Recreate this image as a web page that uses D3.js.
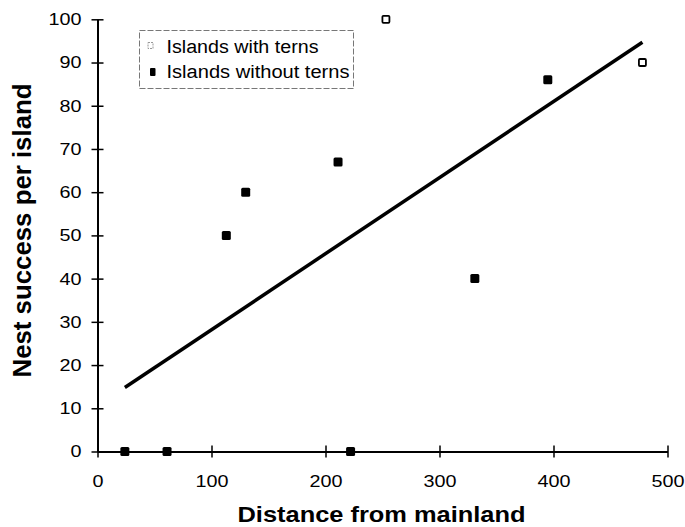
<!DOCTYPE html>
<html>
<head>
<meta charset="utf-8">
<script src="https://cdn.jsdelivr.net/npm/d3@7"></script>
<style>
  body { margin: 0; background: #fff; }
  svg text { font-family: "Liberation Sans", Arial, sans-serif; fill: #000; }
</style>
</head>
<body>
<div id="chart"></div>
<script>
// islands with terns (open squares)
var ternDist = [253, 478];
var ternNest = [100, 90];
// islands without terns (filled squares)
var noTernDist = [24, 61, 222, 113, 130, 211, 331, 395];
var noTernNest = [0, 0, 0, 50, 60, 67, 40, 86];
// trend line end points
var trendDist = [24, 478];
var trendNest = [14.8, 94.7];

var xTicks = [0, 100, 200, 300, 400, 500];
var yTicks = [0, 10, 20, 30, 40, 50, 60, 70, 80, 90, 100];
var legendLabels = ['Islands with terns', 'Islands without terns'];

var width = 685, height = 527;
var margin = {top: 19.3, right: 17.5, bottom: 75.5, left: 97.5};

var svg = d3.select('#chart').append('svg')
    .attr('width', width)
    .attr('height', height);

var x = d3.scaleLinear().domain([0, 500]).range([margin.left, width - margin.right]);
var y = d3.scaleLinear().domain([0, 100]).range([height - margin.bottom, margin.top]);

// y axis
var yAxis = svg.append('g')
    .attr('transform', 'translate(' + x(0) + ',0)')
    .call(d3.axisLeft(y).tickValues(yTicks).tickSize(6).tickSizeOuter(0).tickPadding(10));
yAxis.select('.domain').attr('stroke', '#000').attr('stroke-width', 2);
yAxis.selectAll('.tick line').attr('x1', 6).attr('stroke', '#000').attr('stroke-width', 1.5);
yAxis.selectAll('.tick text')
    .style('font-size', '17px')
    .attr('textLength', function (d) { return String(d).length * 11; })
    .attr('lengthAdjust', 'spacingAndGlyphs');

// x axis
var xAxis = svg.append('g')
    .attr('transform', 'translate(0,' + y(0) + ')')
    .call(d3.axisBottom(x).tickValues(xTicks).tickSize(6).tickSizeOuter(0).tickPadding(17));
xAxis.select('.domain').attr('stroke', '#000').attr('stroke-width', 2);
xAxis.selectAll('.tick line').attr('y1', -6).attr('stroke', '#000').attr('stroke-width', 1.5);
xAxis.selectAll('.tick text')
    .style('font-size', '17px')
    .attr('textLength', function (d) { return String(d).length * 11; })
    .attr('lengthAdjust', 'spacingAndGlyphs');

// axis titles
svg.append('text')
    .attr('x', (x(0) + x(500)) / 2 - 1)
    .attr('y', 521.5)
    .attr('text-anchor', 'middle')
    .style('font-size', '22px')
    .style('font-weight', 'bold')
    .attr('textLength', 288)
    .attr('lengthAdjust', 'spacingAndGlyphs')
    .text('Distance from mainland');

svg.append('text')
    .attr('transform', 'translate(31,230.5) rotate(-90)')
    .attr('text-anchor', 'middle')
    .style('font-size', '25px')
    .style('font-weight', 'bold')
    .attr('textLength', 294)
    .attr('lengthAdjust', 'spacingAndGlyphs')
    .text('Nest success per island');

// trend line
var line = d3.line()
    .x(function (d) { return x(d[0]); })
    .y(function (d) { return y(d[1]); });
svg.append('path')
    .datum(d3.zip(trendDist, trendNest))
    .attr('d', line)
    .attr('fill', 'none')
    .attr('stroke', '#000')
    .attr('stroke-width', 3.5);

// points
svg.append('g').selectAll('rect')
    .data(d3.zip(noTernDist, noTernNest))
    .enter().append('rect')
    .attr('x', function (d) { return x(d[0]) - 4.5; })
    .attr('y', function (d) { return y(d[1]) - 4.5; })
    .attr('width', 9).attr('height', 9)
    .attr('rx', 1.5)
    .attr('fill', '#000');

svg.append('g').selectAll('rect')
    .data(d3.zip(ternDist, ternNest))
    .enter().append('rect')
    .attr('x', function (d) { return x(d[0]) - 3.5; })
    .attr('y', function (d) { return y(d[1]) - 3.5; })
    .attr('width', 7).attr('height', 7)
    .attr('rx', 1)
    .attr('fill', '#fff')
    .attr('stroke', '#000')
    .attr('stroke-width', 1.8);

// legend
var legend = svg.append('g');
legend.append('rect')
    .attr('x', 139.5).attr('y', 30.5)
    .attr('width', 214).attr('height', 58)
    .attr('fill', 'none')
    .attr('stroke', '#777')
    .attr('stroke-width', 1)
    .attr('stroke-dasharray', '6,2');

legend.append('rect')
    .attr('x', 148).attr('y', 42.5).attr('width', 5).attr('height', 6)
    .attr('fill', 'none').attr('stroke', '#999').attr('stroke-width', 1)
    .attr('stroke-dasharray', '2,1');
legend.append('rect')
    .attr('x', 150).attr('y', 68).attr('width', 5.5).attr('height', 8)
    .attr('rx', 1).attr('fill', '#000');

legend.selectAll('text.lbl')
    .data(legendLabels)
    .enter().append('text')
    .attr('class', 'lbl')
    .attr('x', 166.5)
    .attr('y', function (d, i) { return 52.5 + i * 25.8; })
    .style('font-size', '18px')
    .attr('textLength', function (d, i) { return i === 0 ? 152 : 183; })
    .attr('lengthAdjust', 'spacingAndGlyphs')
    .text(function (d) { return d; });
</script>
</body>
</html>
